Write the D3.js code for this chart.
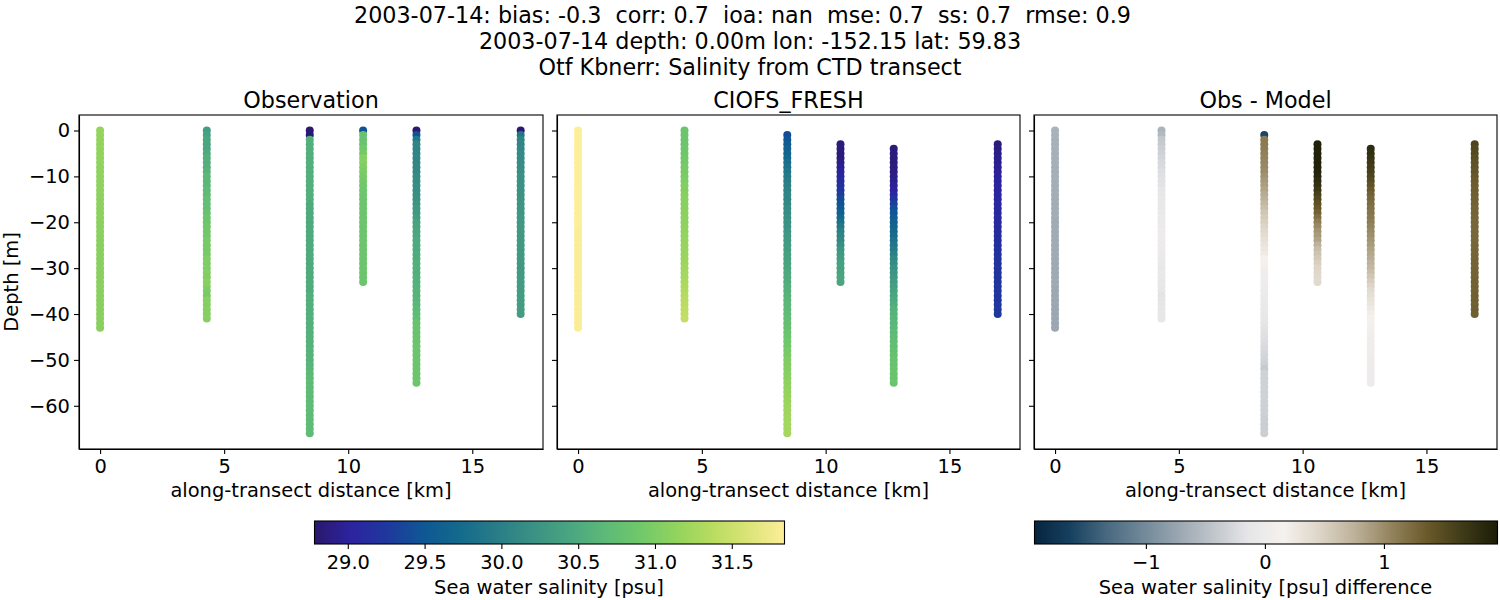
<!DOCTYPE html>
<html>
<head>
<meta charset="utf-8">
<script src="https://cdnjs.cloudflare.com/ajax/libs/d3/7.8.5/d3.min.js"></script>
<style>
  body { margin: 0; background: #fff; }
  text { font-family: "DejaVu Sans"; fill: #000; white-space: pre; }
</style>
</head>
<body>
<svg id="fig" width="1500" height="600"></svg>
<script>
// Values, one list per cast, top to bottom
const castDistance = [0, 4.3, 8.45, 10.6, 12.75, 16.95];

const castDepth = [
  [0,-1,-2,-3,-4,-5,-6,-7,-8,-9,-10,-11,-12,-13,-14,-15,-16,-17,-18,-19,-20,-21,-22,-23,-24,-25,-26,-27,-28,-29,-30,-31,-32,-33,-34,-35,-36,-37,-38,-39,-40,-41,-42,-43],
  [0,-1,-2,-3,-4,-5,-6,-7,-8,-9,-10,-11,-12,-13,-14,-15,-16,-17,-18,-19,-20,-21,-22,-23,-24,-25,-26,-27,-28,-29,-30,-31,-32,-33,-34,-35,-36,-37,-38,-39,-40,-41],
  [0,-1,-2,-3,-4,-5,-6,-7,-8,-9,-10,-11,-12,-13,-14,-15,-16,-17,-18,-19,-20,-21,-22,-23,-24,-25,-26,-27,-28,-29,-30,-31,-32,-33,-34,-35,-36,-37,-38,-39,-40,-41,-42,-43,-44,-45,-46,-47,-48,-49,-50,-51,-52,-53,-54,-55,-56,-57,-58,-59,-60,-61,-62,-63,-64,-65,-66],
  [0,-1,-2,-3,-4,-5,-6,-7,-8,-9,-10,-11,-12,-13,-14,-15,-16,-17,-18,-19,-20,-21,-22,-23,-24,-25,-26,-27,-28,-29,-30,-31,-32,-33],
  [0,-1,-2,-3,-4,-5,-6,-7,-8,-9,-10,-11,-12,-13,-14,-15,-16,-17,-18,-19,-20,-21,-22,-23,-24,-25,-26,-27,-28,-29,-30,-31,-32,-33,-34,-35,-36,-37,-38,-39,-40,-41,-42,-43,-44,-45,-46,-47,-48,-49,-50,-51,-52,-53,-54,-55],
  [0,-1,-2,-3,-4,-5,-6,-7,-8,-9,-10,-11,-12,-13,-14,-15,-16,-17,-18,-19,-20,-21,-22,-23,-24,-25,-26,-27,-28,-29,-30,-31,-32,-33,-34,-35,-36,-37,-38,-39,-40]
];

const obsSalinity = [
  [31.15,31.15,31.14,31.14,31.14,31.13,31.13,31.13,31.12,31.12,31.12,31.12,31.11,31.11,31.11,31.1,31.1,31.1,31.1,31.1,31.09,31.09,31.09,31.09,31.08,31.08,31.08,31.08,31.08,31.08,31.08,31.08,31.08,31.08,31.08,31.08,31.08,31.08,31.08,31.08,31.08,31.08,31.08,31.08],
  [30.35,30.4,30.45,30.45,30.45,30.5,30.55,30.55,30.55,30.6,30.65,30.65,30.65,30.7,30.7,30.75,30.75,30.75,30.8,30.85,30.85,30.9,30.9,30.9,30.95,30.95,30.95,30.95,31.0,31.0,31.0,31.05,31.0,31.08,31.05,30.98,30.95,31.05,31.05,31.05,31.05,31.05],
  [28.8,28.8,30.55,30.55,30.55,30.55,30.55,30.55,30.55,30.55,30.55,30.55,30.55,30.55,30.55,30.55,30.5,30.5,30.5,30.5,30.5,30.5,30.5,30.5,30.5,30.5,30.5,30.5,30.5,30.5,30.5,30.52,30.52,30.52,30.52,30.52,30.55,30.55,30.55,30.55,30.55,30.56,30.56,30.57,30.57,30.58,30.58,30.58,30.6,30.6,30.6,30.62,30.64,30.66,30.68,30.7,30.7,30.7,30.7,30.7,30.7,30.7,30.7,30.7,30.7,30.7,30.7],
  [29.45,30.8,30.8,30.82,30.9,30.92,31.05,31.05,31.0,30.98,30.95,30.93,30.9,30.88,30.87,30.85,30.85,30.85,30.85,30.85,30.85,30.85,30.85,30.85,30.85,30.85,30.85,30.85,30.85,30.85,30.85,30.85,30.85,30.85],
  [28.8,29.45,29.9,30.05,30.05,30.05,30.08,30.08,30.1,30.1,30.12,30.14,30.16,30.18,30.18,30.2,30.25,30.3,30.3,30.35,30.4,30.42,30.44,30.46,30.48,30.5,30.5,30.52,30.52,30.55,30.55,30.55,30.56,30.56,30.58,30.6,30.6,30.62,30.64,30.66,30.7,30.72,30.8,30.82,30.82,30.84,30.84,30.85,30.85,30.85,30.85,30.85,30.85,30.85,30.85,30.85],
  [28.8,29.9,30.05,30.08,30.1,30.12,30.14,30.15,30.17,30.18,30.2,30.2,30.21,30.22,30.23,30.24,30.25,30.26,30.27,30.28,30.3,30.3,30.3,30.3,30.3,30.3,30.3,30.3,30.3,30.3,30.3,30.31,30.32,30.32,30.33,30.33,30.34,30.34,30.35,30.35,30.35]
];

const modelSalinity = [
  [31.84,31.84,31.84,31.84,31.84,31.84,31.84,31.84,31.84,31.84,31.84,31.84,31.84,31.84,31.84,31.84,31.84,31.84,31.84,31.84,31.84,31.84,31.82,31.82,31.82,31.82,31.82,31.82,31.82,31.82,31.82,31.82,31.82,31.82,31.82,31.82,31.82,31.82,31.82,31.82,31.82,31.82,31.82,31.82],
  [30.85,30.85,30.85,30.85,30.86,30.87,30.9,30.92,30.94,30.95,30.97,31.0,31.02,31.03,31.05,31.06,31.07,31.08,31.09,31.1,31.1,31.12,31.13,31.14,31.15,31.16,31.17,31.18,31.19,31.2,31.22,31.24,31.26,31.28,31.3,31.32,31.34,31.36,31.38,31.4,31.42,31.44],
  [null,29.4,29.48,29.55,29.6,29.65,29.7,29.78,29.82,29.88,29.92,29.97,30.0,30.03,30.06,30.08,30.1,30.13,30.15,30.18,30.2,30.22,30.25,30.28,30.3,30.32,30.35,30.38,30.4,30.42,30.45,30.47,30.5,30.52,30.55,30.57,30.6,30.62,30.65,30.67,30.7,30.73,30.76,30.78,30.82,30.85,30.88,30.9,30.94,30.97,31.0,31.02,31.04,31.06,31.08,31.1,31.12,31.14,31.16,31.18,31.2,31.21,31.22,31.23,31.24,31.25,31.25],
  [null,null,null,28.85,28.85,28.85,28.85,28.9,28.95,29.0,29.05,29.1,29.15,29.22,29.3,29.38,29.45,29.52,29.6,29.7,29.8,29.9,30.0,30.05,30.1,30.18,30.25,30.3,30.35,30.38,30.4,30.42,30.44,30.45],
  [null,null,null,null,28.85,28.85,28.85,28.85,28.87,28.88,28.9,28.93,28.96,29.0,29.1,29.2,29.3,29.4,29.47,29.53,29.6,29.65,29.7,29.75,29.82,29.88,29.95,30.0,30.07,30.14,30.2,30.24,30.28,30.32,30.36,30.4,30.44,30.48,30.52,30.56,30.6,30.62,30.64,30.66,30.68,30.7,30.72,30.74,30.76,30.78,30.8,30.81,30.82,30.83,30.84,30.85],
  [null,null,null,28.85,28.87,28.9,28.92,28.94,28.96,28.98,29.0,29.01,29.02,29.03,29.04,29.05,29.06,29.07,29.08,29.09,29.1,29.11,29.12,29.13,29.14,29.15,29.16,29.17,29.18,29.19,29.2,29.2,29.21,29.21,29.22,29.22,29.23,29.23,29.24,29.24,29.25]
];

const diffSalinity = [
  [-0.62,-0.62,-0.63,-0.63,-0.63,-0.64,-0.64,-0.64,-0.65,-0.65,-0.65,-0.65,-0.66,-0.66,-0.66,-0.67,-0.67,-0.67,-0.67,-0.67,-0.68,-0.68,-0.68,-0.68,-0.69,-0.69,-0.69,-0.69,-0.7,-0.7,-0.7,-0.7,-0.7,-0.7,-0.7,-0.71,-0.71,-0.71,-0.71,-0.72,-0.72,-0.72,-0.72,-0.72],
  [-0.6,-0.55,-0.42,-0.4,-0.35,-0.33,-0.3,-0.27,-0.25,-0.22,-0.2,-0.18,-0.17,-0.14,-0.12,-0.1,-0.1,-0.08,-0.06,-0.05,-0.04,-0.02,-0.01,-0.01,-0.01,-0.02,-0.03,-0.04,-0.05,-0.07,-0.1,-0.06,-0.07,-0.13,-0.1,-0.13,-0.17,-0.15,-0.14,-0.13,-0.12,-0.12],
  [null,-1.6,1.12,1.12,1.1,1.08,1.06,1.04,1.02,1.0,0.96,0.92,0.88,0.84,0.8,0.76,0.7,0.64,0.58,0.54,0.5,0.46,0.42,0.38,0.34,0.3,0.27,0.23,0.15,0.12,0.09,0.05,0.04,0.03,0.01,0.0,-0.02,-0.04,-0.06,-0.08,-0.1,-0.12,-0.14,-0.16,-0.18,-0.2,-0.22,-0.24,-0.26,-0.28,-0.3,-0.34,-0.4,-0.33,-0.33,-0.33,-0.33,-0.33,-0.33,-0.33,-0.34,-0.34,-0.34,-0.35,-0.35,-0.35,-0.35],
  [null,null,null,1.9,1.9,1.9,1.9,1.9,1.9,1.88,1.85,1.8,1.75,1.68,1.6,1.52,1.45,1.38,1.3,1.2,1.1,1.02,0.95,0.9,0.85,0.75,0.65,0.6,0.55,0.5,0.45,0.43,0.41,0.4],
  [null,null,null,null,1.8,1.76,1.72,1.68,1.64,1.6,1.55,1.5,1.43,1.36,1.3,1.25,1.22,1.19,1.16,1.13,1.1,1.06,1.02,0.98,0.94,0.9,0.86,0.82,0.78,0.74,0.7,0.64,0.58,0.52,0.46,0.4,0.36,0.32,0.28,0.24,0.2,0.17,0.14,0.11,0.08,0.05,0.04,0.04,0.03,0.03,0.02,0.02,0.01,0.01,0.0,0.0],
  [null,null,null,1.55,1.52,1.5,1.47,1.44,1.42,1.4,1.38,1.36,1.34,1.33,1.32,1.31,1.3,1.29,1.28,1.27,1.26,1.26,1.26,1.26,1.26,1.27,1.27,1.27,1.28,1.28,1.28,1.29,1.29,1.3,1.3,1.3,1.31,1.31,1.31,1.32,1.32]
];

const xTicks = [0, 5, 10, 15];
const yTicks = [0, -10, -20, -30, -40, -50, -60];
const salinityTicks = [29.0, 29.5, 30.0, 30.5, 31.0, 31.5];
const diffTicks = [-1, 0, 1];
const salinityRange = [28.78, 31.84];
const diffRange = [-1.94, 1.95];

// rough copies of cmocean haline and diff
const halineStops = ["#2a186c","#2c239f","#1f389d","#0f5794","#136a8c","#287c87","#3a9084","#49a481","#5cb978","#70c86a","#92d35e","#b8dc60","#dbe477","#fdee99"];
const diffStops = ["#07243f","#16405f","#47687f","#6f8797","#98a5b0","#bfc5ca","#e6e6e8","#f5f1ee","#ddd5c7","#bcb199","#94845e","#6b5a2b","#3f3b18","#1c1d07"];

const titleLines = [
  "2003-07-14: bias: -0.3  corr: 0.7  ioa: nan  mse: 0.7  ss: 0.7  rmse: 0.9",
  "2003-07-14 depth: 0.00m lon: -152.15 lat: 59.83",
  "Otf Kbnerr: Salinity from CTD transect"
];
const panelTitles = ["Observation", "CIOFS_FRESH", "Obs - Model"];

const titleSize = "22.25px", labelSize = "19.44px";

function stopColor(stops, range) {
  return d3.scaleLinear()
    .domain(stops.map((c, i) => range[0] + (range[1] - range[0]) * i / (stops.length - 1)))
    .range(stops)
    .clamp(true);
}
const salinityColor = stopColor(halineStops, salinityRange);
const diffColor = stopColor(diffStops, diffRange);

const svg = d3.select("#fig");
const defs = svg.append("defs");

// Title block
titleLines.forEach((line, i) => {
  svg.append("text")
    .attr("x", i == 0 ? 742.5 : 750)
    .attr("y", 23 + i * 26)
    .attr("text-anchor", "middle")
    .style("font-size", titleSize)
    .text(line);
});

const plotTop = 115, plotBottom = 449;
const panels = [
  {left: 79, right: 543, values: obsSalinity, color: salinityColor},
  {left: 557, right: 1020, values: modelSalinity, color: salinityColor},
  {left: 1034, right: 1497, values: diffSalinity, color: diffColor}
];

const y = d3.scaleLinear().domain([3.38, -69.42]).range([plotTop, plotBottom]);

function styleAxis(g) {
  g.selectAll("path").attr("stroke-width", 1.1).attr("stroke", "#000");
  g.selectAll("line").attr("stroke-width", 1.1).attr("stroke", "#000");
  g.selectAll("text").style("font-size", labelSize).attr("fill", "#000");
}

panels.forEach((p, idx) => {
  const x = d3.scaleLinear().domain([-0.85, 17.85]).range([p.left, p.right]);
  const g = svg.append("g");

  // scatter, deeper samples painted over shallower ones like the original
  castDistance.forEach((dist, c) => {
    const rows = castDepth[c]
      .map((depth, i) => ({depth: depth, value: p.values[c][i]}))
      .filter(d => d.value != null);
    g.append("g").selectAll("circle")
      .data(rows)
      .enter().append("circle")
      .attr("cx", x(dist))
      .attr("cy", d => y(d.depth))
      .attr("r", 4)
      .attr("fill", d => p.color(d.value));
  });

  g.append("rect")
    .attr("x", p.left).attr("y", plotTop)
    .attr("width", p.right - p.left).attr("height", plotBottom - plotTop)
    .attr("fill", "none").attr("stroke", "#000").attr("stroke-width", 1.1);

  g.append("g")
    .attr("transform", `translate(0,${plotBottom})`)
    .call(d3.axisBottom(x).tickValues(xTicks).tickSize(5).tickPadding(5).tickSizeOuter(0))
    .call(styleAxis);

  const yAxis = d3.axisLeft(y).tickValues(yTicks).tickSize(5).tickPadding(4).tickSizeOuter(0);
  if (idx > 0) yAxis.tickFormat("");
  g.append("g")
    .attr("transform", `translate(${p.left},0)`)
    .call(yAxis)
    .call(styleAxis);

  g.append("text")
    .attr("x", (p.left + p.right) / 2).attr("y", 108)
    .attr("text-anchor", "middle")
    .style("font-size", titleSize)
    .text(panelTitles[idx]);

  g.append("text")
    .attr("x", (p.left + p.right) / 2).attr("y", 497)
    .attr("text-anchor", "middle")
    .style("font-size", labelSize)
    .text("along-transect distance [km]");
});

svg.append("text")
  .attr("transform", "translate(18,282) rotate(-90)")
  .attr("text-anchor", "middle")
  .style("font-size", labelSize)
  .text("Depth [m]");

// Colorbars
function colorbar(id, left, right, range, stops, ticks, fmt, label) {
  const grad = defs.append("linearGradient").attr("id", id);
  stops.forEach((c, i) => {
    grad.append("stop").attr("offset", i / (stops.length - 1)).attr("stop-color", c);
  });
  const scale = d3.scaleLinear().domain(range).range([left, right]);
  const g = svg.append("g");
  g.append("rect")
    .attr("x", left + 0.5).attr("y", 521)
    .attr("width", right - left).attr("height", 23)
    .attr("fill", `url(#${id})`)
    .attr("stroke", "#000").attr("stroke-width", 1.1);
  g.append("g")
    .attr("transform", "translate(0,544)")
    .call(d3.axisBottom(scale).tickValues(ticks).tickFormat(fmt).tickSize(5).tickPadding(6).tickSizeOuter(0))
    .call(styleAxis)
    .call(a => a.select(".domain").remove());
  g.append("text")
    .attr("x", (left + right) / 2).attr("y", 594)
    .attr("text-anchor", "middle")
    .style("font-size", labelSize)
    .text(label);
}
colorbar("salinityBar", 314, 784, salinityRange, halineStops, salinityTicks, d3.format(".1f"), "Sea water salinity [psu]");
colorbar("diffBar", 1034, 1497, diffRange, diffStops, diffTicks, d3.format("d"), "Sea water salinity [psu] difference");
</script>
</body>
</html>
